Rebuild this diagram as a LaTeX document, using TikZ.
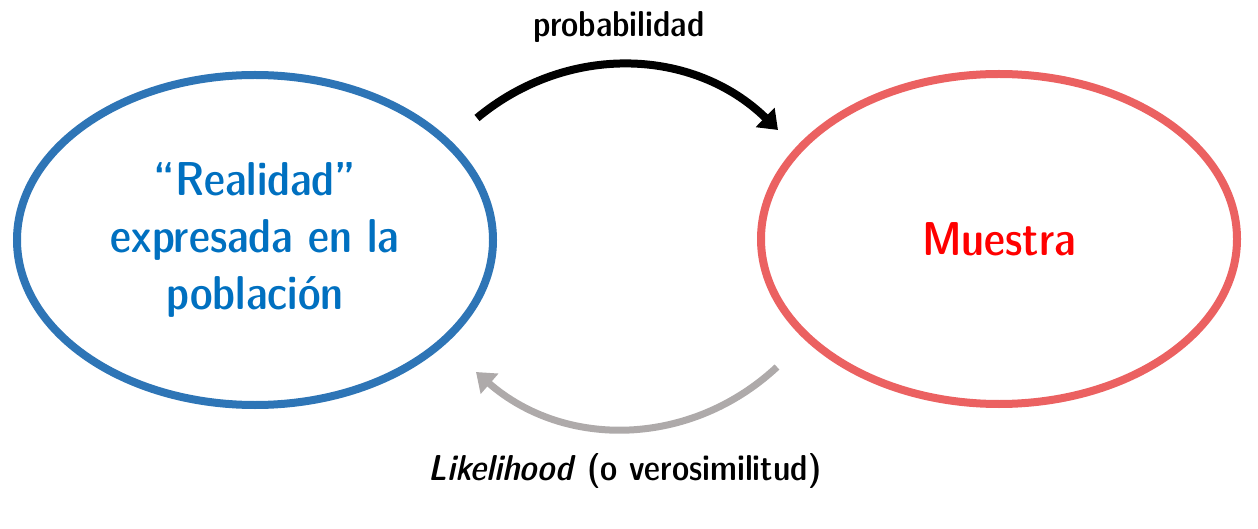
\documentclass[tikz,border=0pt]{standalone}
\usetikzlibrary{shapes.geometric,arrows.meta}
\definecolor{popline}{HTML}{2E75B6}
\definecolor{poptext}{HTML}{0070C0}
\definecolor{sampline}{HTML}{EB6161}
\definecolor{samptext}{HTML}{FF0000}
\definecolor{likegray}{HTML}{AEAAAA}
\tikzset{
  bigfont/.style={font=\sffamily\fontseries{sbc}\fontsize{47.5}{57}\selectfont},
  smallfont/.style={font=\sffamily\fontseries{sbc}\fontsize{36}{44}\selectfont}
}
\begin{document}
\begin{tikzpicture}[x=1pt,y=-1pt]
        \useasboundingbox (0,0) rectangle (1258,529);

        \begin{scope}[every node/.style={ellipse, draw, line width=8pt, inner sep=0pt,
            minimum width=476pt, minimum height=330pt, align=center, bigfont}]
          \node[draw=popline, text=poptext] (pop)  at (255,240) {``Realidad''\\expresada en la\\poblaci\'on};
          \node[draw=sampline, text=samptext] (samp) at (999,239) {Muestra};
        \end{scope}

        \coordinate (pa) at (477,118);
        \coordinate (pb) at (778,130);
        \coordinate (la) at (777,367);
        \coordinate (lb) at (476,372);

        \begin{scope}[every node/.style={anchor=base, smallfont}]
          \node (prob) at (619,37)  {probabilidad};
          \node (like) at (625,480) {\textit{Likelihood} (o verosimilitud)};
        \end{scope}

        \begin{scope}[every edge/.style={draw, bend left=42}]
          \path (pa) edge[line width=8pt, -{Triangle[length=18pt,width=26pt]}] (pb);
          \path (la) edge[likegray, line width=7pt, -{Triangle[length=18pt,width=26pt]}] (lb);
        \end{scope}

      \end{tikzpicture}
\end{document}
